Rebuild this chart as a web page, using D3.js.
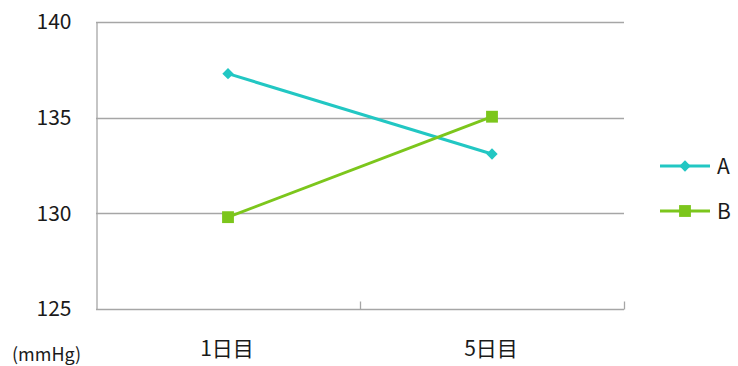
<!DOCTYPE html>
<html><head><meta charset="utf-8">
<script src="https://cdn.jsdelivr.net/npm/d3@7"></script>
<style>body{margin:0;background:#fff}svg{display:block}</style>
</head><body>
<script>
const categories = ["1日目", "5日目"];
const seriesNames = ["A", "B"];
const valuesA = [137.3, 133.1];
const valuesB = [129.8, 135.05];
const yTicks = [125, 130, 135, 140];
const unitLabel = "(mmHg)";

const W = 738, H = 366;
const m = {left: 96, right: 114, top: 22, bottom: 57};
const font = "'Noto Sans CJK JP', 'Noto Sans', sans-serif";
const colors = {A: "#22c7c3", B: "#7cc61c"};

const svg = d3.select("body").append("svg").attr("width", W).attr("height", H);
const x = d3.scaleBand().domain(categories).range([m.left, W - m.right]);
const y = d3.scaleLinear().domain([125, 140]).range([H - m.bottom, m.top]);

// gridlines
svg.append("g").selectAll("line").data(yTicks.filter(t => t !== 125)).join("line")
  .attr("x1", m.left).attr("x2", W - m.right)
  .attr("y1", d => Math.round(y(d)) + 0.5).attr("y2", d => Math.round(y(d)) + 0.5)
  .attr("stroke", "#a6a6a6").attr("stroke-width", 1.3);

// y axis
const yAxis = svg.append("g").attr("transform", `translate(${m.left + 0.5},0)`)
  .call(d3.axisLeft(y).tickValues(yTicks).tickSize(0).tickPadding(25).tickFormat(d3.format("d")));
yAxis.select(".domain").attr("stroke", "#a6a6a6").attr("stroke-width", 1.3);
yAxis.selectAll("text").attr("font-family", font).attr("font-size", 21).attr("fill", "#1a1a1a");

// x axis
const xb = Math.round(y(125)) + 0.5;
const xAxisG = svg.append("g").attr("transform", `translate(0,${xb})`);
xAxisG.append("line").attr("x1", m.left).attr("x2", W - m.right).attr("stroke", "#a6a6a6").attr("stroke-width", 1.3);
const bounds = categories.map(c => x(c) + x.bandwidth()).map(v => Math.round(v) + 0.5);
xAxisG.selectAll("line.tk").data(bounds).join("line").attr("class", "tk")
  .attr("x1", d => d).attr("x2", d => d).attr("y1", 0).attr("y2", -8)
  .attr("stroke", "#a6a6a6").attr("stroke-width", 1.3);
xAxisG.selectAll("text").data(categories).join("text")
  .attr("x", d => x(d) + x.bandwidth() / 2 - 1).attr("y", 46)
  .attr("text-anchor", "middle").attr("font-family", font).attr("font-size", 21).attr("fill", "#1a1a1a")
  .text(d => d);

// unit label
svg.append("text").attr("x", 12).attr("y", 361).attr("font-family", font).attr("font-size", 18)
  .attr("fill", "#1a1a1a").text(unitLabel);

// series
const series = [{name: "A", values: valuesA, shape: d3.symbolSquare, size: 64, rot: 45},
                {name: "B", values: valuesB, shape: d3.symbolSquare, size: 140, rot: 0}];
const line = d3.line().x((d, i) => x(categories[i]) + x.bandwidth() / 2).y(d => y(d));
series.forEach(s => {
  svg.append("path").datum(s.values).attr("d", line).attr("fill", "none")
    .attr("stroke", colors[s.name]).attr("stroke-width", 3);
  svg.append("g").selectAll("path").data(s.values).join("path")
    .attr("transform", (d, i) => `translate(${x(categories[i]) + x.bandwidth() / 2},${y(d)}) rotate(${s.rot})`)
    .attr("d", d3.symbol().type(s.shape).size(s.size))
    .attr("fill", colors[s.name]);
});

// legend
const legY = [166, 211];
series.forEach((s, i) => {
  const g = svg.append("g").attr("transform", `translate(660,${legY[i]})`);
  g.append("line").attr("x1", 0).attr("x2", 50).attr("stroke", colors[s.name]).attr("stroke-width", 3);
  g.append("path").attr("transform", `translate(25,0) rotate(${s.rot})`)
    .attr("d", d3.symbol().type(s.shape).size(s.size)).attr("fill", colors[s.name]);
  g.append("text").attr("x", 57).attr("y", 7.5).attr("font-family", font).attr("font-size", 21)
    .attr("fill", "#1a1a1a").text(s.name);
});
</script>
</body></html>
